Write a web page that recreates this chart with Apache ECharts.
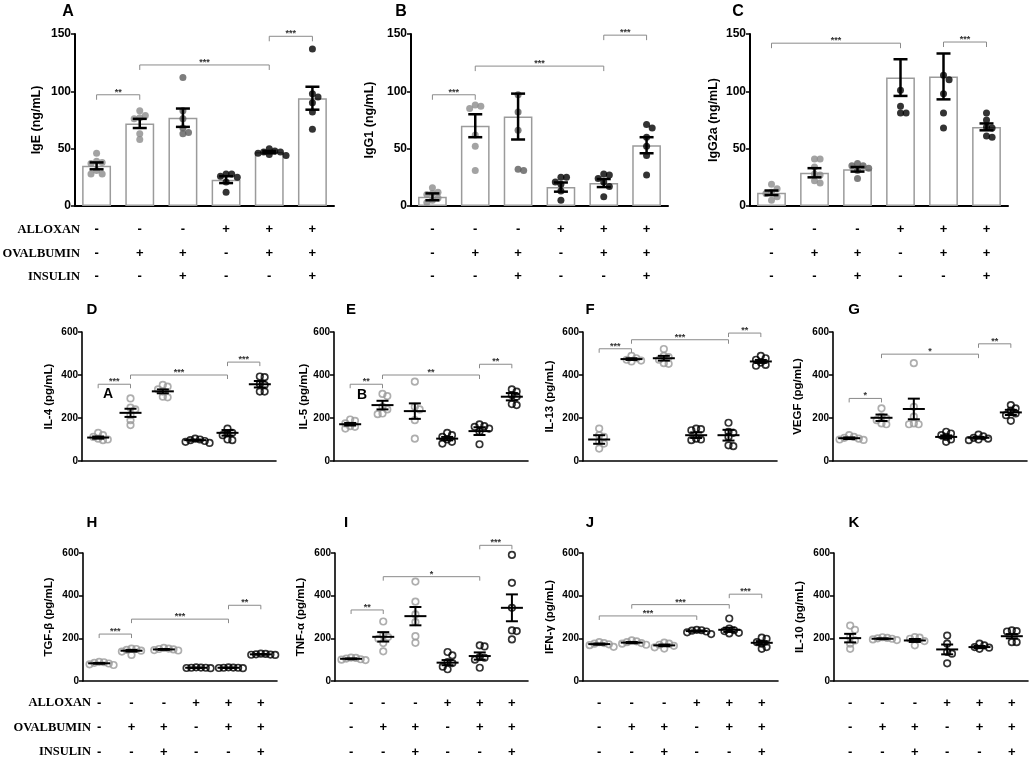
<!DOCTYPE html>
<html>
<head>
<meta charset="utf-8">
<script src="https://cdn.jsdelivr.net/npm/echarts/dist/echarts.min.js"></script>
<style>html,body{margin:0;padding:0;background:#fff}#main{width:1030px;height:759px}</style>
</head>
<body>
<div id="main"></div>
<script>
// treatment table under the x axes
var alloxan   = ['-', '-', '-', '+', '+', '+']
var ovalbumin = ['-', '+', '+', '-', '+', '+']
var insulin   = ['-', '-', '+', '-', '-', '+']
var rowNames  = ['ALLOXAN', 'OVALBUMIN', 'INSULIN']
var groups = alloxan.map(function (a, i) { return a + '\n' + ovalbumin[i] + '\n' + insulin[i] })

// A  IgE
var igeDots = [[46, 39, 38, 37, 31, 28, 28], [83, 79, 77, 76, 63, 58], [112, 83, 76, 68, 64, 63], [28, 28, 26, 25, 21, 12], [50, 48, 47, 47, 46, 45, 44], [137, 98, 95, 90, 82, 67]]
var igeMean = [35, 72, 77, 23, 47, 94]
var igeSem  = [3, 4, 8, 3, 1, 10]
var igeSig  = [[0, 1, 97, '**'], [1, 4, 123, '***'], [4, 5, 148, '***']]
// B  IgG1
var igg1Dots = [[16, 12, 11, 10, 7, 5, 3], [88, 87, 85, 62, 52, 31], [97, 82, 66, 32, 31], [25, 25, 21, 19, 13, 5], [28, 27, 24, 21, 17, 8], [71, 68, 60, 52, 44, 27]]
var igg1Mean = [8, 70, 78, 16.5, 20, 53]
var igg1Sem  = [3, 10, 20, 4, 3.5, 7]
var igg1Sig  = [[0, 1, 97, '***'], [1, 4, 122, '***'], [4, 5, 149, '***']]
// C  IgG2a
var igg2aDots = [[19, 15, 12, 11, 8, 5], [41, 41, 34, 28, 27, 22, 20], [37, 35, 35, 33, 31, 24], [101, 87, 81, 81], [114, 110, 98, 81, 68], [81, 75, 69, 68, 61, 60]]
var igg2aMean = [11.5, 29, 32, 112, 113, 69]
var igg2aSem  = [2, 4, 2, 16, 20, 3]
var igg2aSig  = [[0, 3, 142, '***'], [4, 5, 143, '***']]
// D  IL-4
var il4Dots = [[131, 120, 112, 104, 100, 97], [291, 248, 240, 213, 190, 167], [354, 346, 333, 323, 299, 296], [104, 100, 97, 93, 89, 84], [151, 131, 128, 120, 100, 97], [393, 390, 358, 354, 323, 323]]
var il4Mean = [109, 224, 324, 97, 131, 357]
var il4Sem  = [5, 19, 9, 3, 13, 15]
var il4Sig  = [[0, 1, 357, '***'], [1, 4, 400, '***'], [4, 5, 460, '***']]
// E  IL-5
var il5Dots = [[193, 187, 175, 162, 159, 151], [312, 302, 252, 240, 221, 218], [369, 252, 240, 190, 104], [131, 120, 112, 100, 89, 81], [170, 162, 159, 151, 136, 78], [333, 323, 307, 299, 265, 260]]
var il5Mean = [171, 260, 232, 104, 139, 299]
var il5Sem  = [6, 20, 36, 8, 18, 17]
var il5Sig  = [[0, 1, 357, '**'], [1, 4, 400, '**'], [4, 5, 450, '**']]
// F  IL-13
var il13Dots = [[151, 120, 112, 89, 81, 58], [489, 478, 471, 467, 463], [521, 489, 483, 471, 455, 452], [151, 148, 143, 104, 100, 97], [178, 136, 131, 112, 73, 69], [489, 478, 471, 458, 447, 443]]
var il13Mean = [100, 474, 478, 120, 120, 463]
var il13Sem  = [20, 4, 11, 13, 25, 7]
var il13Sig  = [[0, 1, 522, '***'], [1, 4, 564, '***'], [4, 5, 595, '**']]
// G  VEGF
var vegfDots = [[120, 112, 108, 104, 100, 98], [245, 206, 198, 190, 175, 171], [455, 252, 206, 175, 171, 171], [136, 128, 120, 112, 100, 89], [123, 115, 108, 104, 100, 97], [260, 245, 234, 221, 213, 187]]
var vegfMean = [106, 201, 242, 112, 108, 226]
var vegfSem  = [4, 15, 48, 7, 4, 12]
var vegfSig  = [[0, 1, 291, '*'], [1, 4, 497, '*'], [4, 5, 545, '**']]
// H  TGF-β
var tgfbDots = [[90, 88, 85, 82, 78, 75], [152, 150, 146, 142, 138, 122], [155, 152, 150, 148, 145, 143], [64, 63, 62, 62, 61, 60], [64, 63, 62, 62, 61, 60], [128, 127, 125, 124, 123, 122]]
var tgfbMean = [83, 142, 148, 62, 62, 125]
var tgfbSem  = [2, 4, 2, 1, 1, 1]
var tgfbSig  = [[0, 1, 220, '***'], [1, 4, 290, '***'], [4, 5, 355, '**']]
// I  TNF-α
var tnfaDots = [[110, 108, 105, 102, 100, 98], [279, 214, 206, 198, 178, 139], [466, 372, 312, 276, 210, 179], [136, 120, 89, 84, 67, 55], [167, 162, 112, 109, 100, 62], [591, 460, 343, 237, 234, 195]]
var tnfaMean = [104, 207, 304, 86, 117, 343]
var tnfaSem  = [2, 22, 43, 12, 17, 63]
var tnfaSig  = [[0, 1, 333, '**'], [1, 4, 489, '*'], [4, 5, 636, '***']]
// J  IFN-γ
var ifngDots = [[182, 178, 175, 172, 168, 160], [190, 186, 182, 178, 175, 170], [180, 175, 170, 165, 158, 152], [240, 238, 236, 232, 228, 220], [293, 246, 238, 234, 226, 223], [203, 198, 182, 175, 159, 151]]
var ifngMean = [173, 180, 167, 234, 240, 179]
var ifngSem  = [3, 3, 4, 3, 10, 8]
var ifngSig  = [[0, 3, 305, '***'], [1, 4, 358, '***'], [4, 5, 407, '***']]
// K  IL-10
var il10Dots = [[260, 240, 206, 190, 175, 151], [205, 202, 200, 198, 195, 192], [206, 203, 198, 187, 167], [213, 175, 136, 128, 83], [175, 167, 159, 156, 151], [237, 234, 232, 182, 182]]
var il10Mean = [201, 198, 190, 148, 159, 210]
var il10Sem  = [20, 2, 7, 23, 5, 10]
var il10Sig  = []

var FONT = 'Liberation Sans, Arial, sans-serif'
var SERIF = 'Liberation Serif, Times New Roman, serif'

// 行布局
var rows = [
  { top: 34, height: 172, max: 150, step: 50, table: true, margin: 12, lh: 23.5, axisW: 2, tickFs: 12, nameFs: 12.5, bars: true },
  { top: 332, height: 129, max: 600, step: 200, table: false, axisW: 1.6, tickFs: 10, nameFs: 11.5, bars: false },
  { top: 553, height: 128, max: 600, step: 200, table: true, margin: 10, lh: 24.5, axisW: 1.6, tickFs: 10, nameFs: 11.5, bars: false }
]

var panels = [
  { id: 'A', name: 'IgE (ng/mL)', dots: igeDots, mean: igeMean, sem: igeSem, sig: igeSig, row: 0, left: 75, width: 259, gap: 32, lx: 68, ly: 12 },
  { id: 'B', name: 'IgG1 (ng/mL)', dots: igg1Dots, mean: igg1Mean, sem: igg1Sem, sig: igg1Sig, row: 0, left: 411, width: 257, gap: 35, lx: 401, ly: 12 },
  { id: 'C', name: 'IgG2a (ng/mL)', dots: igg2aDots, mean: igg2aMean, sem: igg2aSem, sig: igg2aSig, row: 0, left: 750, width: 258, gap: 30, lx: 738, ly: 12 },
  { id: 'D', name: 'IL-4 (pg/mL)', dots: il4Dots, mean: il4Mean, sem: il4Sem, sig: il4Sig, row: 1, left: 82, width: 194, gap: 27, lx: 92, ly: 310 },
  { id: 'E', name: 'IL-5 (pg/mL)', dots: il5Dots, mean: il5Mean, sem: il5Sem, sig: il5Sig, row: 1, left: 334, width: 194, gap: 21, lx: 351, ly: 310 },
  { id: 'F', name: 'IL-13 (pg/mL)', dots: il13Dots, mean: il13Mean, sem: il13Sem, sig: il13Sig, row: 1, left: 583, width: 194, gap: 27, lx: 590, ly: 310 },
  { id: 'G', name: 'VEGF (pg/mL)', dots: vegfDots, mean: vegfMean, sem: vegfSem, sig: vegfSig, row: 1, left: 833, width: 194, gap: 29, lx: 854, ly: 310 },
  { id: 'H', name: 'TGF-β (pg/mL)', dots: tgfbDots, mean: tgfbMean, sem: tgfbSem, sig: tgfbSig, row: 2, left: 83, width: 194, gap: 28, lx: 92, ly: 523 },
  { id: 'I', name: 'TNF-α (pg/mL)', dots: tnfaDots, mean: tnfaMean, sem: tnfaSem, sig: tnfaSig, row: 2, left: 335, width: 193, gap: 28, lx: 346, ly: 523 },
  { id: 'J', name: 'IFN-γ (pg/mL)', dots: ifngDots, mean: ifngMean, sem: ifngSem, sig: ifngSig, row: 2, left: 583, width: 195, gap: 27, lx: 590, ly: 523 },
  { id: 'K', name: 'IL-10 (pg/mL)', dots: il10Dots, mean: il10Mean, sem: il10Sem, sig: il10Sig, row: 2, left: 834, width: 194, gap: 28, lx: 854, ly: 523 }
]

var barColors = ['#8c8c8c', '#8c8c8c', '#5c5c5c', '#000', '#000', '#000']
var ringColors = ['#9a9a9a', '#9a9a9a', '#9a9a9a', '#000', '#000', '#000']

// simple beeswarm: horizontal pixel offsets, dots may overlap a bit like the original
function swarm (vals, pxPerUnit, dist) {
  var placed = []
  return vals.map(function (v) {
    var y = v * pxPerUnit
    for (var k = 0; k < 30; k++) {
      var dx = k === 0 ? 0 : Math.ceil(k / 2) * dist * (k % 2 ? 1 : -1)
      var ok = placed.every(function (p) { return Math.hypot(p[0] - dx, p[1] - y) >= dist - 0.01 })
      if (ok) { placed.push([dx, y]); return dx }
    }
    placed.push([0, y])
    return 0
  })
}

function errRender (capW, meanW, lw) {
  return function (params, api) {
    var c = api.value(0), m = api.value(1), s = api.value(2)
    var hi = api.coord([c, m + s]), lo = api.coord([c, m - s]), mid = api.coord([c, m])
    var st = { stroke: '#000', lineWidth: lw }
    var kids = [
      { type: 'line', shape: { x1: hi[0], y1: hi[1], x2: lo[0], y2: lo[1] }, style: st },
      { type: 'line', shape: { x1: hi[0] - capW, y1: hi[1], x2: hi[0] + capW, y2: hi[1] }, style: st },
      { type: 'line', shape: { x1: lo[0] - capW, y1: lo[1], x2: lo[0] + capW, y2: lo[1] }, style: st }
    ]
    if (meanW) kids.push({ type: 'line', shape: { x1: mid[0] - meanW, y1: mid[1], x2: mid[0] + meanW, y2: mid[1] }, style: st })
    return { type: 'group', children: kids }
  }
}

function sigRender (list, drop) {
  return function (params, api) {
    var s = list[params.dataIndex]
    var a = api.coord([s[0], s[2]]), b = api.coord([s[1], s[2]])
    return {
      type: 'group',
      children: [
        { type: 'polyline', shape: { points: [[a[0], a[1] + drop], [a[0], a[1]], [b[0], b[1]], [b[0], b[1] + drop]] }, style: { stroke: '#8a8a8a', lineWidth: 1, fill: 'none' } },
        { type: 'text', style: { text: s[3], x: (a[0] + b[0]) / 2, y: a[1] + 2, align: 'center', verticalAlign: 'bottom', fontSize: 9, fontWeight: 'bold', fontFamily: FONT, fill: '#333' } }
      ]
    }
  }
}

var grids = [], xAxes = [], yAxes = [], series = [], graphics = []

panels.forEach(function (p, k) {
  var r = rows[p.row]
  grids.push({ left: p.left, top: r.top, width: p.width, height: r.height, outerBoundsMode: 'none' })
  xAxes.push({
    type: 'category', gridIndex: k, data: groups,
    axisLine: { lineStyle: { color: '#000', width: r.axisW } },
    axisTick: { alignWithLabel: true, length: 5, lineStyle: { color: '#000', width: 1.5 } },
    axisLabel: r.table
      ? { interval: 0, margin: r.margin, lineHeight: r.lh, fontSize: 13, fontWeight: 'bold', fontFamily: FONT, color: '#000' }
      : { show: false }
  })
  yAxes.push({
    type: 'value', gridIndex: k, min: 0, max: r.max, interval: r.step,
    name: p.name, nameLocation: 'middle', nameGap: p.gap,
    nameTextStyle: { fontSize: r.nameFs, fontWeight: 'bold', fontFamily: FONT, color: '#000' },
    axisLine: { show: true, lineStyle: { color: '#000', width: r.axisW } },
    axisTick: { show: true, length: 4, lineStyle: { color: '#000', width: 1.5 } },
    axisLabel: { fontSize: r.tickFs, fontWeight: 'bold', fontFamily: FONT, color: '#000', margin: 4 },
    splitLine: { show: false }
  })

  var pxPerUnit = r.height / r.max
  var dotData = []
  p.dots.forEach(function (vals, g) {
    var offs = swarm(vals, pxPerUnit, r.bars ? 5.6 : 4.8)
    vals.forEach(function (v, j) {
      dotData.push({
        value: [g, v],
        symbolOffset: [offs[j], 0],
        itemStyle: r.bars
          ? { color: barColors[g], borderWidth: 0 }
          : { color: 'rgba(255,255,255,0)', borderColor: ringColors[g], borderWidth: 1.7 }
      })
    })
  })

  if (r.bars) {
    series.push({
      type: 'bar', xAxisIndex: k, yAxisIndex: k, data: p.mean, barWidth: '67%', silent: true, z: 1,
      itemStyle: { color: '#fff', borderColor: '#9b9b9b', borderWidth: 1.5 }
    })
  }
  series.push({
    type: 'scatter', xAxisIndex: k, yAxisIndex: k, data: dotData, symbol: 'circle',
    symbolSize: r.bars ? 7 : 6.5, silent: true, z: 2
  })
  series.push({
    type: 'custom', xAxisIndex: k, yAxisIndex: k, z: 3, silent: true,
    data: p.mean.map(function (m, i) { return [i, m, p.sem[i]] }),
    encode: { x: 0, y: 1 },
    renderItem: r.bars ? errRender(7, 0, 2.5) : errRender(6, 11, 2)
  })
  if (p.sig.length) {
    series.push({
      type: 'custom', xAxisIndex: k, yAxisIndex: k, z: 4, silent: true, clip: false,
      data: p.sig.map(function (s) { return [s[0], s[1], s[2]] }),
      encode: { x: [0, 1], y: 2 },
      renderItem: sigRender(p.sig, r.bars ? 5 : 4)
    })
  }

  graphics.push({
    type: 'text', style: { text: p.id, x: p.lx, y: p.ly, align: 'center', verticalAlign: 'middle', fontSize: r.bars ? 16 : 15, fontWeight: 'bold', fontFamily: FONT, fill: '#000' }
  })
})

// row names of the treatment table
;[{ x: 80, y: 230, lh: 23.5 }, { x: 91, y: 703, lh: 24.5 }].forEach(function (t) {
  rowNames.forEach(function (n, i) {
    graphics.push({
      type: 'text', style: { text: n, x: t.x, y: t.y + i * t.lh, align: 'right', verticalAlign: 'middle', fontSize: 12.5, fontWeight: 'bold', fontFamily: SERIF, fill: '#000' }
    })
  })
})

// stray letters inside D and E
graphics.push({ type: 'text', style: { text: 'A', x: 108, y: 394, align: 'center', verticalAlign: 'middle', fontSize: 14, fontWeight: 'bold', fontFamily: FONT, fill: '#000' } })
graphics.push({ type: 'text', style: { text: 'B', x: 362, y: 395, align: 'center', verticalAlign: 'middle', fontSize: 14, fontWeight: 'bold', fontFamily: FONT, fill: '#000' } })

var myChart = echarts.init(document.getElementById('main'))
myChart.setOption({
  animation: false,
  backgroundColor: '#fff',
  grid: grids,
  xAxis: xAxes,
  yAxis: yAxes,
  series: series,
  graphic: graphics
})
</script>
</body>
</html>
